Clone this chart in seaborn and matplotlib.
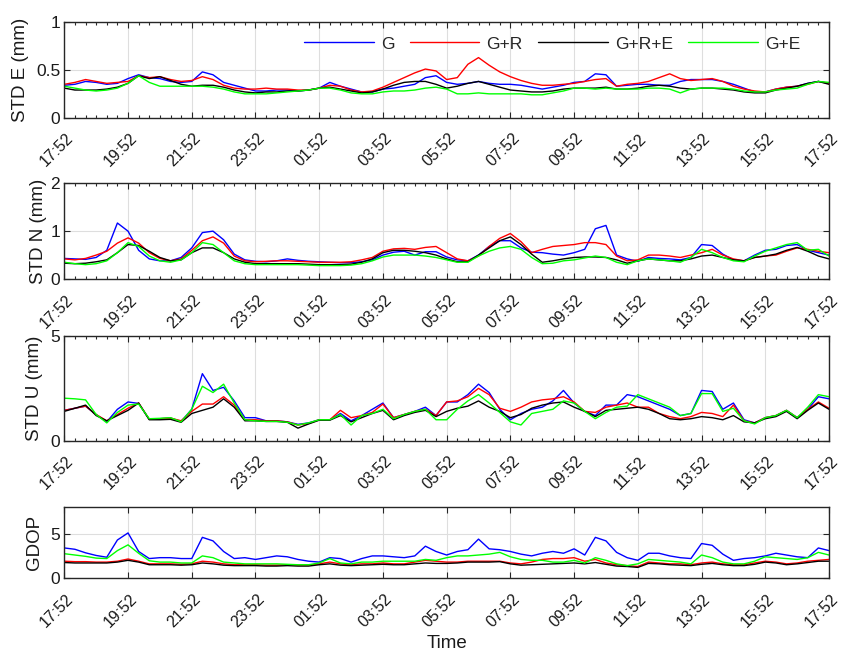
import numpy as np
import pandas as pd
import matplotlib
matplotlib.use("Agg")
import matplotlib.pyplot as plt
import matplotlib.transforms as mtransforms
import seaborn as sns

# ---------------- data ----------------
systems = ["G", "G+R", "G+R+E", "G+E"]
colors = ["#0000ff", "#ff0000", "#000000", "#00ff00"]
tick_labels = ["17:52", "19:52", "21:52", "23:52", "01:52", "03:52", "05:52",
               "07:52", "09:52", "11:52", "13:52", "15:52", "17:52"]
# sample epochs: every 20 minutes from 17:52 (hours since start)
hours = np.arange(73) * 20 / 60.0

std_e_g = [0.34, 0.35, 0.38, 0.37, 0.35, 0.36, 0.41, 0.45, 0.42, 0.41, 0.38, 0.37,
           0.38, 0.48, 0.45, 0.37, 0.34, 0.31, 0.28, 0.28, 0.29, 0.29, 0.28, 0.29,
           0.31, 0.37, 0.33, 0.30, 0.27, 0.27, 0.30, 0.31, 0.33, 0.35, 0.42, 0.44,
           0.37, 0.35, 0.36, 0.38, 0.36, 0.35, 0.35, 0.34, 0.32, 0.30, 0.32, 0.34,
           0.37, 0.38, 0.46, 0.45, 0.33, 0.34, 0.35, 0.35, 0.34, 0.34, 0.38, 0.40,
           0.40, 0.40, 0.38, 0.35, 0.31, 0.27, 0.27, 0.30, 0.32, 0.33, 0.36, 0.38,
           0.36]
std_e_gr = [0.35, 0.37, 0.40, 0.38, 0.36, 0.37, 0.38, 0.44, 0.42, 0.43, 0.40, 0.38,
            0.39, 0.43, 0.40, 0.34, 0.31, 0.30, 0.30, 0.31, 0.30, 0.30, 0.29, 0.29,
            0.31, 0.34, 0.33, 0.29, 0.27, 0.28, 0.32, 0.37, 0.42, 0.47, 0.51, 0.49,
            0.40, 0.42, 0.56, 0.63, 0.55, 0.48, 0.43, 0.39, 0.36, 0.34, 0.34, 0.35,
            0.36, 0.38, 0.40, 0.41, 0.33, 0.35, 0.36, 0.38, 0.42, 0.46, 0.41, 0.39,
            0.40, 0.41, 0.38, 0.33, 0.30, 0.28, 0.27, 0.30, 0.32, 0.33, 0.35, 0.38,
            0.36]
std_e_gre = [0.31, 0.29, 0.29, 0.29, 0.30, 0.32, 0.36, 0.44, 0.41, 0.43, 0.39, 0.35,
             0.33, 0.34, 0.34, 0.32, 0.29, 0.27, 0.26, 0.27, 0.27, 0.28, 0.28, 0.29,
             0.31, 0.32, 0.30, 0.28, 0.26, 0.27, 0.30, 0.34, 0.37, 0.38, 0.38, 0.35,
             0.31, 0.33, 0.36, 0.38, 0.35, 0.32, 0.29, 0.28, 0.27, 0.27, 0.28, 0.30,
             0.31, 0.31, 0.31, 0.32, 0.30, 0.30, 0.31, 0.33, 0.34, 0.33, 0.31, 0.30,
             0.31, 0.31, 0.30, 0.29, 0.27, 0.26, 0.26, 0.29, 0.31, 0.33, 0.36, 0.38,
             0.35]
std_e_ge = [0.33, 0.31, 0.29, 0.28, 0.29, 0.31, 0.36, 0.44, 0.37, 0.33, 0.33, 0.33,
            0.33, 0.33, 0.32, 0.30, 0.27, 0.25, 0.25, 0.25, 0.26, 0.27, 0.28, 0.29,
            0.31, 0.31, 0.29, 0.26, 0.25, 0.25, 0.27, 0.28, 0.28, 0.29, 0.31, 0.32,
            0.30, 0.25, 0.25, 0.26, 0.25, 0.25, 0.25, 0.25, 0.24, 0.24, 0.26, 0.28,
            0.31, 0.31, 0.30, 0.31, 0.30, 0.30, 0.30, 0.31, 0.31, 0.30, 0.26, 0.30,
            0.31, 0.31, 0.31, 0.30, 0.28, 0.27, 0.27, 0.29, 0.30, 0.31, 0.35, 0.38,
            0.37]

std_n_g = [0.43, 0.42, 0.41, 0.45, 0.60, 1.17, 1.00, 0.60, 0.42, 0.38, 0.38, 0.45,
           0.65, 0.97, 1.00, 0.82, 0.52, 0.40, 0.37, 0.36, 0.38, 0.42, 0.39, 0.37,
           0.36, 0.35, 0.34, 0.34, 0.36, 0.40, 0.50, 0.56, 0.58, 0.50, 0.57, 0.57,
           0.46, 0.40, 0.38, 0.50, 0.68, 0.80, 0.80, 0.65, 0.56, 0.55, 0.52, 0.50,
           0.55, 0.62, 1.05, 1.12, 0.50, 0.42, 0.37, 0.45, 0.43, 0.42, 0.40, 0.45,
           0.72, 0.70, 0.52, 0.40, 0.38, 0.50, 0.60, 0.62, 0.70, 0.72, 0.60, 0.55,
           0.50]
std_n_gr = [0.42, 0.40, 0.43, 0.50, 0.58, 0.75, 0.86, 0.75, 0.55, 0.43, 0.38, 0.42,
            0.60, 0.80, 0.88, 0.75, 0.48, 0.38, 0.36, 0.37, 0.38, 0.38, 0.37, 0.36,
            0.35, 0.35, 0.35, 0.36, 0.40, 0.45, 0.58, 0.63, 0.64, 0.62, 0.66, 0.68,
            0.55, 0.42, 0.38, 0.48, 0.68, 0.85, 0.95, 0.78, 0.55, 0.62, 0.68, 0.70,
            0.72, 0.76, 0.76, 0.72, 0.48, 0.38, 0.40, 0.50, 0.50, 0.48, 0.45, 0.50,
            0.55, 0.62, 0.50, 0.42, 0.38, 0.45, 0.48, 0.50, 0.58, 0.65, 0.62, 0.58,
            0.55]
std_n_gre = [0.33, 0.32, 0.33, 0.36, 0.40, 0.55, 0.72, 0.70, 0.58, 0.45, 0.38, 0.40,
             0.55, 0.65, 0.65, 0.55, 0.42, 0.35, 0.32, 0.32, 0.32, 0.32, 0.32, 0.31,
             0.30, 0.30, 0.30, 0.31, 0.35, 0.42, 0.55, 0.60, 0.60, 0.58, 0.55, 0.50,
             0.42, 0.36, 0.36, 0.50, 0.65, 0.80, 0.88, 0.72, 0.52, 0.35, 0.38, 0.42,
             0.45, 0.46, 0.46, 0.45, 0.40, 0.33, 0.38, 0.42, 0.40, 0.38, 0.38, 0.42,
             0.48, 0.50, 0.45, 0.40, 0.38, 0.45, 0.48, 0.52, 0.60, 0.66, 0.58, 0.48,
             0.42]
std_n_ge = [0.35, 0.32, 0.30, 0.32, 0.38, 0.55, 0.76, 0.68, 0.48, 0.38, 0.35, 0.40,
            0.55, 0.76, 0.72, 0.55, 0.38, 0.32, 0.30, 0.30, 0.30, 0.30, 0.30, 0.29,
            0.28, 0.28, 0.28, 0.29, 0.32, 0.38, 0.46, 0.50, 0.50, 0.50, 0.48, 0.45,
            0.40, 0.35, 0.35, 0.48, 0.58, 0.65, 0.68, 0.62, 0.45, 0.32, 0.33, 0.38,
            0.40, 0.44, 0.48, 0.45, 0.35, 0.30, 0.38, 0.42, 0.40, 0.38, 0.35, 0.45,
            0.62, 0.55, 0.45, 0.38, 0.36, 0.48, 0.58, 0.65, 0.72, 0.76, 0.60, 0.62,
            0.48]

std_u_g = [1.45, 1.55, 1.65, 1.25, 0.90, 1.50, 1.85, 1.78, 1.02, 1.05, 1.08, 0.92,
           1.50, 3.20, 2.40, 2.55, 1.90, 1.10, 1.10, 0.95, 0.95, 0.90, 0.78, 0.85,
           1.00, 1.00, 1.30, 0.95, 1.20, 1.50, 1.80, 1.10, 1.25, 1.40, 1.60, 1.20,
           1.85, 1.85, 2.20, 2.70, 2.30, 1.50, 1.00, 1.30, 1.50, 1.60, 1.90, 2.40,
           1.80, 1.40, 1.20, 1.70, 1.70, 2.20, 2.10, 1.90, 1.70, 1.50, 1.20, 1.30,
           2.40, 2.35, 1.50, 1.80, 1.00, 0.85, 1.10, 1.20, 1.45, 1.10, 1.50, 2.10,
           2.00]
std_u_gr = [1.45, 1.55, 1.65, 1.25, 0.95, 1.25, 1.55, 1.80, 1.02, 1.05, 1.08, 0.95,
            1.40, 1.75, 1.75, 2.10, 1.70, 1.00, 1.00, 0.95, 0.95, 0.90, 0.75, 0.82,
            1.00, 1.00, 1.45, 1.10, 1.20, 1.35, 1.75, 1.10, 1.25, 1.40, 1.50, 1.20,
            1.85, 1.90, 2.10, 2.50, 2.20, 1.55, 1.40, 1.60, 1.85, 1.95, 2.00, 2.10,
            1.85, 1.40, 1.35, 1.60, 1.70, 1.80, 1.60, 1.60, 1.30, 1.15, 1.05, 1.15,
            1.35, 1.30, 1.15, 1.70, 0.95, 0.85, 1.10, 1.20, 1.45, 1.10, 1.50, 1.85,
            1.55]
std_u_gre = [1.40, 1.55, 1.70, 1.20, 0.95, 1.20, 1.45, 1.80, 1.00, 1.00, 1.02, 0.88,
             1.30, 1.45, 1.60, 2.00, 1.60, 0.95, 0.95, 0.92, 0.92, 0.88, 0.60, 0.80,
             0.98, 0.98, 1.20, 0.90, 1.10, 1.30, 1.45, 1.00, 1.20, 1.35, 1.45, 1.15,
             1.40, 1.55, 1.65, 1.90, 1.60, 1.40, 1.10, 1.25, 1.55, 1.70, 1.80, 1.85,
             1.60, 1.40, 1.15, 1.45, 1.50, 1.55, 1.60, 1.50, 1.30, 1.05, 1.00, 1.05,
             1.15, 1.10, 1.00, 1.20, 0.90, 0.85, 1.05, 1.15, 1.40, 1.05, 1.45, 1.80,
             1.50]
std_u_ge = [2.03, 2.00, 1.95, 1.25, 0.85, 1.35, 1.70, 1.75, 1.05, 1.07, 1.10, 0.90,
            1.50, 2.60, 2.30, 2.70, 1.80, 1.00, 0.95, 0.92, 0.92, 0.88, 0.75, 0.85,
            1.00, 1.00, 1.25, 0.75, 1.20, 1.30, 1.50, 1.05, 1.25, 1.40, 1.50, 1.00,
            1.00, 1.50, 1.90, 2.20, 1.80, 1.35, 0.90, 0.75, 1.30, 1.40, 1.50, 1.90,
            1.80, 1.40, 1.05, 1.35, 1.60, 1.65, 2.20, 2.00, 1.80, 1.60, 1.20, 1.30,
            2.25, 2.25, 1.40, 1.55, 0.95, 0.80, 1.10, 1.20, 1.45, 1.10, 1.60, 2.20,
            2.10]

gdop_g = [3.40, 3.25, 2.85, 2.55, 2.35, 4.30, 5.10, 3.00, 2.20, 2.30, 2.30, 2.20,
          2.20, 4.60, 4.20, 3.00, 2.20, 2.30, 2.10, 2.30, 2.50, 2.40, 2.10, 1.90,
          1.80, 2.30, 2.20, 1.80, 2.20, 2.50, 2.50, 2.40, 2.30, 2.50, 3.60, 3.00,
          2.60, 3.00, 3.20, 4.40, 3.30, 3.20, 3.00, 2.70, 2.50, 2.80, 3.00, 2.80,
          3.30, 2.60, 4.60, 4.20, 2.90, 2.30, 2.00, 2.80, 2.80, 2.50, 2.30, 2.20,
          3.90, 3.70, 2.70, 2.00, 2.20, 2.30, 2.50, 2.80, 2.60, 2.40, 2.30, 3.40,
          3.10]
gdop_gr = [1.90, 1.85, 1.85, 1.80, 1.80, 1.90, 2.15, 1.90, 1.60, 1.60, 1.60, 1.55,
           1.60, 1.90, 1.80, 1.60, 1.50, 1.50, 1.50, 1.45, 1.45, 1.50, 1.45, 1.45,
           1.60, 1.80, 1.60, 1.50, 1.60, 1.60, 1.70, 1.60, 1.60, 1.80, 2.00, 1.90,
           1.80, 1.80, 1.90, 1.90, 1.90, 1.90, 1.70, 1.60, 1.80, 2.10, 2.20, 2.20,
           2.30, 1.90, 2.10, 1.70, 1.50, 1.40, 1.30, 1.80, 1.70, 1.60, 1.60, 1.50,
           1.70, 1.80, 1.60, 1.50, 1.50, 1.70, 1.90, 1.80, 1.60, 1.70, 1.90, 2.00,
           2.10]
gdop_gre = [1.75, 1.70, 1.70, 1.70, 1.70, 1.80, 2.00, 1.80, 1.50, 1.50, 1.50, 1.45,
            1.50, 1.70, 1.60, 1.45, 1.40, 1.40, 1.40, 1.35, 1.35, 1.40, 1.35, 1.35,
            1.50, 1.60, 1.45, 1.40, 1.45, 1.50, 1.55, 1.50, 1.50, 1.60, 1.70, 1.65,
            1.65, 1.70, 1.80, 1.80, 1.80, 1.85, 1.60, 1.45, 1.50, 1.55, 1.60, 1.65,
            1.70, 1.60, 1.75, 1.55, 1.35, 1.30, 1.20, 1.65, 1.60, 1.50, 1.45, 1.40,
            1.55, 1.65, 1.50, 1.40, 1.40, 1.55, 1.80, 1.70, 1.50, 1.60, 1.75, 1.90,
            1.90]
gdop_ge = [2.75, 2.60, 2.45, 2.25, 2.20, 3.10, 3.75, 2.80, 1.95, 1.80, 1.80, 1.70,
           1.70, 2.50, 2.30, 1.80, 1.70, 1.60, 1.60, 1.60, 1.60, 1.55, 1.50, 1.50,
           1.70, 2.20, 1.70, 1.60, 1.80, 1.80, 1.90, 1.90, 1.90, 1.90, 2.10, 2.00,
           2.30, 2.50, 2.50, 2.60, 2.70, 2.90, 2.40, 2.10, 2.00, 2.00, 1.80, 1.80,
           2.00, 1.70, 2.30, 2.00, 1.60, 1.40, 1.60, 2.10, 2.00, 1.90, 1.80, 1.60,
           2.60, 2.30, 1.80, 1.60, 1.60, 1.90, 2.40, 2.30, 2.20, 2.10, 2.30, 2.90,
           2.60]

panel_labels = ["STD E (mm)", "STD N (mm)", "STD U (mm)", "GDOP"]
panel_series = [
    [std_e_g, std_e_gr, std_e_gre, std_e_ge],
    [std_n_g, std_n_gr, std_n_gre, std_n_ge],
    [std_u_g, std_u_gr, std_u_gre, std_u_ge],
    [gdop_g, gdop_gr, gdop_gre, gdop_ge],
]
panel_ylims = [(0, 1), (0, 2), (0, 5), (0, 8)]
panel_yticks = [[0, 0.5, 1], [0, 1, 2], [0, 5], [0, 5]]
panel_yticklabels = [["0", "0.5", "1"], ["0", "1", "2"], ["0", "5"], ["0", "5"]]

# ---------------- style ----------------
sns.set_theme(style="ticks")
plt.rcParams["font.family"] = ["Liberation Sans", "DejaVu Sans"]

W, H = 844, 653
fig = plt.figure(figsize=(W / 100, H / 100), dpi=100)

left_px, right_px = 64.3, 829.0
panel_px = [(22.3, 117.7), (183.3, 279.0), (336.0, 440.7), (507.3, 578.0)]
ylabel_right_px = [29.0, 47.0, 43.0, 43.0]
frame_col = "#262626"

offset = mtransforms.ScaledTranslation(6.6 / 100, 0, fig.dpi_scale_trans)

for i in range(4):
    top, bot = panel_px[i]
    ax = fig.add_axes([left_px / W, 1 - bot / H, (right_px - left_px) / W, (bot - top) / H])

    vals = np.concatenate([np.asarray(s, dtype=float) for s in panel_series[i]])
    df = pd.DataFrame({
        "time": np.tile(hours, len(systems)),
        "value": vals,
        "system": np.repeat(systems, len(hours)),
    })
    sns.lineplot(data=df, x="time", y="value", hue="system", hue_order=systems,
                 palette=colors, estimator=None, linewidth=1.0, ax=ax,
                 legend=(i == 0))

    ax.set_xlim(0, 24)
    ax.set_ylim(*panel_ylims[i])
    ax.set_xticks(np.arange(0, 25, 2))
    ax.set_xticklabels(tick_labels)
    if i < 3:
        ax.set_xticks(np.arange(0, 24.01, 1 / 3), minor=True)
    ax.set_yticks(panel_yticks[i])
    ax.set_yticklabels(panel_yticklabels[i])

    ax.grid(True, which="major", color="#dedede", linewidth=0.8)
    ax.set_axisbelow(True)
    for sp in ax.spines.values():
        sp.set_color(frame_col)
        sp.set_linewidth(1.0)
    ax.tick_params(which="both", direction="in", top=True, right=True,
                   color=frame_col, width=0.8)
    ax.tick_params(which="major", length=4)
    ax.tick_params(which="minor", length=2.4)
    ax.tick_params(axis="x", which="major", pad=13.2, labelsize=11.5,
                   labelcolor="#1a1a1a")
    ax.tick_params(axis="y", which="major", pad=3, labelsize=12.5,
                   labelcolor="#1a1a1a")
    for lab in ax.get_xticklabels():
        lab.set_rotation(45)
        lab.set_ha("right")
        lab.set_va("center")
        lab.set_rotation_mode("anchor")
        lab.set_transform(lab.get_transform() + offset)

    ax.set_ylabel(panel_labels[i], fontsize=13.5, color="#1a1a1a")
    ax.yaxis.set_label_coords((ylabel_right_px[i] - left_px) / (right_px - left_px), 0.5)
    if i == 3:
        ax.set_xlabel("Time", fontsize=13.5, color="#1a1a1a")
        ax.xaxis.set_label_coords(0.5, -(635 - bot) / (bot - top))
    else:
        ax.set_xlabel("")

    if i == 0:
        handles, labels = ax.get_legend_handles_labels()
        ax.legend(handles, labels, ncol=4, frameon=False, loc="center",
                  bbox_to_anchor=(0.638, 0.773), handlelength=4.0,
                  handletextpad=0.4, columnspacing=0.9, fontsize=12.5,
                  borderaxespad=0)

fig.savefig("out.png", dpi=100)
